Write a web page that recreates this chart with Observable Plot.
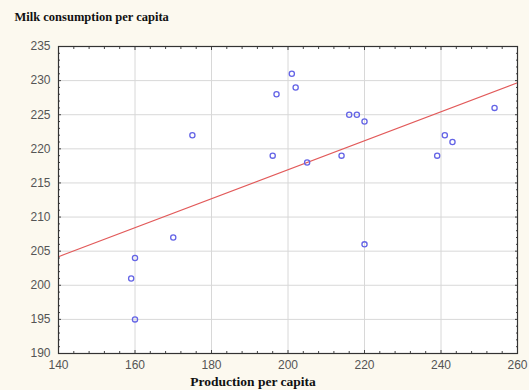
<!DOCTYPE html>
<html>
<head>
<meta charset="utf-8">
<script src="https://cdn.jsdelivr.net/npm/d3@7"></script>
<script src="https://cdn.jsdelivr.net/npm/@observablehq/plot@0.6"></script>
<style>
  html, body { margin: 0; padding: 0; background: #fcf9ef; }
  #chart svg { display: block; }
</style>
</head>
<body>
<div id="chart"></div>
<script>
const production = [159, 160, 160, 170, 175, 196, 197, 201, 202, 205, 214, 216, 218, 220, 220, 239, 241, 243, 254];
const consumption = [201, 204, 195, 207, 222, 219, 228, 231, 229, 218, 219, 225, 225, 224, 206, 219, 222, 221, 226];
const xTicks = [140, 160, 180, 200, 220, 240, 260];
const yTicks = [190, 195, 200, 205, 210, 215, 220, 225, 230, 235];
const xMinor = [144, 148, 152, 156, 164, 168, 172, 176, 184, 188, 192, 196, 204, 208, 212, 216, 224, 228, 232, 236, 244, 248, 252, 256];
const yMinor = yTicks.flatMap(v => [1, 2, 3, 4].map(k => v + k)).filter(v => v < 235);
const titleText = "Milk consumption per capita";
const xLabel = "Production per capita";

const points = production.map((x, i) => ({x, y: consumption[i]}));
const mx = d3.mean(production), my = d3.mean(consumption);
const slope = d3.sum(points, d => (d.x - mx) * (d.y - my)) / d3.sum(points, d => (d.x - mx) ** 2);
const xDomain = [xTicks[0], xTicks[xTicks.length - 1]];
const fit = xDomain.map(x => ({x, y: my + slope * (x - mx)}));

const tickColor = "#444";
const chart = Plot.plot({
  width: 529,
  height: 390,
  marginTop: 46,
  marginLeft: 58,
  marginRight: 12,
  marginBottom: 37,
  style: {background: "#fcf9ef", fontFamily: "Liberation Sans, Arial, sans-serif"},
  x: {domain: xDomain},
  y: {domain: [yTicks[0], yTicks[yTicks.length - 1]]},
  marks: [
    Plot.frame({fill: "white", stroke: null}),
    Plot.gridX(xTicks.slice(1, -1), {stroke: "#d8d8d8", strokeOpacity: 1}),
    Plot.gridY(yTicks.slice(1, -1), {stroke: "#d8d8d8", strokeOpacity: 1}),
    Plot.line(fit, {x: "x", y: "y", stroke: "#e25a5a", strokeWidth: 1.1}),
    Plot.dot(points, {x: "x", y: "y", r: 2.6, stroke: "#6464e6", strokeWidth: 1.3, fill: "none"}),
    Plot.axisX({ticks: xTicks, tickSize: 0, tickPadding: 7, fontSize: 12, fill: "#555", label: null}),
    Plot.axisY({ticks: yTicks, tickSize: 0, tickPadding: 8, fontSize: 12, fill: "#555", label: null}),
    Plot.axisX({ticks: xTicks, anchor: "bottom", tickSize: -3, text: null, stroke: tickColor, label: null}),
    Plot.axisX({ticks: xTicks, anchor: "top", tickSize: -3, text: null, stroke: tickColor, label: null}),
    Plot.axisX({ticks: xMinor, anchor: "bottom", tickSize: -2, text: null, stroke: tickColor, label: null}),
    Plot.axisX({ticks: xMinor, anchor: "top", tickSize: -2, text: null, stroke: tickColor, label: null}),
    Plot.axisY({ticks: yTicks, anchor: "left", tickSize: -3, text: null, stroke: tickColor, label: null}),
    Plot.axisY({ticks: yTicks, anchor: "right", tickSize: -3, text: null, stroke: tickColor, label: null}),
    Plot.axisY({ticks: yMinor, anchor: "left", tickSize: -2, text: null, stroke: tickColor, label: null}),
    Plot.axisY({ticks: yMinor, anchor: "right", tickSize: -2, text: null, stroke: tickColor, label: null}),
    Plot.frame({stroke: "#333", strokeWidth: 1.2}),
    Plot.text([titleText], {frameAnchor: "top-left", dx: -44, dy: -34, text: d => d, fontFamily: "Liberation Serif, Times New Roman, serif", fontWeight: "bold", fontSize: 12.5, fill: "#111", textAnchor: "start", lineAnchor: "top"}),
    Plot.text([xLabel], {frameAnchor: "bottom", dx: -35, dy: 23, text: d => d, fontFamily: "Liberation Serif, Times New Roman, serif", fontWeight: "bold", fontSize: 13.5, fill: "#111", lineAnchor: "top"})
  ]
});
document.getElementById("chart").appendChild(chart);
</script>
</body>
</html>
